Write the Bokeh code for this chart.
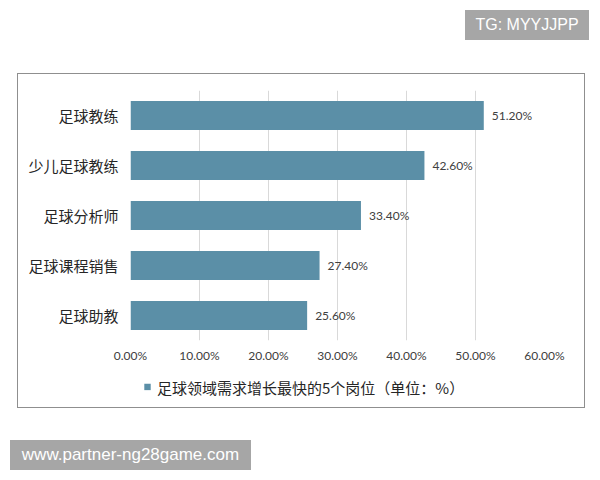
from bokeh.plotting import figure
from bokeh.layouts import column
from bokeh.models import (FactorRange, Range1d, FixedTicker, NumeralTickFormatter,
                          ColumnDataSource, Legend, LegendItem, Div)
from bokeh.core.properties import value
from bokeh.embed import file_html
from bokeh.resources import INLINE

categories = ["足球教练", "少儿足球教练", "足球分析师", "足球课程销售", "足球助教"]
shares = [0.512, 0.426, 0.334, 0.274, 0.256]
x_ticks = [0, 0.1, 0.2, 0.3, 0.4, 0.5, 0.6]
series_name = "足球领域需求增长最快的5个岗位（单位：%）"
watermark_top = "TG: MYYJJPP"
watermark_bottom = "www.partner-ng28game.com"

BAR = "#5b8fa7"
CJK = "Noto Sans CJK SC"

labels = [f"{v * 100:.2f}%" for v in shares]
src = ColumnDataSource(dict(cat=categories, val=shares, lab=labels))

y_rng = FactorRange(*reversed(categories))
x_rng = Range1d(0, 0.6)

# ---- main chart ----
p = figure(width=566, height=292, y_range=y_rng, x_range=x_rng,
           output_backend="svg", toolbar_location=None,
           min_border_left=112, min_border_right=40,
           min_border_top=16, min_border_bottom=26, margin=0)
p.outline_line_color = None
p.background_fill_color = "white"
p.border_fill_color = "white"

bars = p.hbar(y="cat", right="val", left=0, height=0.58, source=src,
              fill_color=BAR, line_color=None)
p.text(x="val", y="cat", text="lab", source=src, x_offset=8,
       text_baseline="middle", text_align="left",
       text_font=value("Lato"), text_font_size="12px", text_color="#404040")

p.xaxis.ticker = FixedTicker(ticks=x_ticks)
p.xaxis.formatter = NumeralTickFormatter(format="0.00%")
for ax in (p.xaxis, p.yaxis):
    ax.axis_line_color = None
    ax.major_tick_line_color = None
    ax.minor_tick_line_color = None
    ax.major_tick_out = 0
    ax.major_tick_in = 0
p.xaxis.major_label_text_font = "Lato"
p.xaxis.major_label_text_font_size = "12px"
p.xaxis.major_label_text_color = "#404040"
p.xaxis.major_label_standoff = 7
p.yaxis.major_label_text_font = CJK
p.yaxis.major_label_text_font_size = "15px"
p.yaxis.major_label_text_color = "#262626"
p.yaxis.major_label_standoff = 12

p.xgrid.grid_line_color = "#d9d9d9"
p.xgrid.grid_line_width = 1
p.ygrid.grid_line_color = None

# ---- legend strip (same series, renderer hidden; only its legend swatch shows) ----
pl = figure(width=566, height=41, x_range=x_rng, y_range=y_rng,
            output_backend="svg", toolbar_location=None,
            min_border_left=112, min_border_right=40, min_border_top=0, min_border_bottom=0,
            x_axis_type=None, y_axis_type=None, margin=0)
pl.outline_line_color = None
pl.grid.grid_line_color = None
pl.background_fill_color = "white"
pl.border_fill_color = "white"
swatch = pl.hbar(y="cat", right="val", left=0, height=0.58, source=src,
                 fill_color=BAR, line_color=None, visible=False)
legend = Legend(items=[LegendItem(label=series_name, renderers=[swatch])],
                location="center_left", orientation="horizontal",
                glyph_width=8, glyph_height=8, label_height=20,
                label_standoff=6, padding=0, margin=13,
                border_line_color=None, background_fill_alpha=0,
                label_text_font=CJK, label_text_font_size="15px",
                label_text_color="#262626")
pl.add_layout(legend, "center")

chart_box = column(p, pl, spacing=0, margin=(0, 0, 0, 17),
                   styles={"border": "1px solid #8f8f8f"})

box_css = ("background:#a6a6a6;color:#ffffff;font-family:'Liberation Sans',sans-serif;"
           "height:30px;line-height:30px;text-align:center;")
top_div = Div(text=(f'<div style="margin-left:465px;margin-top:10px;width:124px;'
                    f'font-size:16px;{box_css}">{watermark_top}</div>'),
              width=592, height=73, margin=0)
bottom_div = Div(text=(f'<div style="margin-left:10px;margin-top:32px;width:241px;'
                       f'font-size:17px;{box_css}">{watermark_bottom}</div>'),
                 width=592, height=64, margin=0)

layout = column(top_div, chart_box, bottom_div, spacing=0)

open("out.html", "w").write(file_html(layout, INLINE))
